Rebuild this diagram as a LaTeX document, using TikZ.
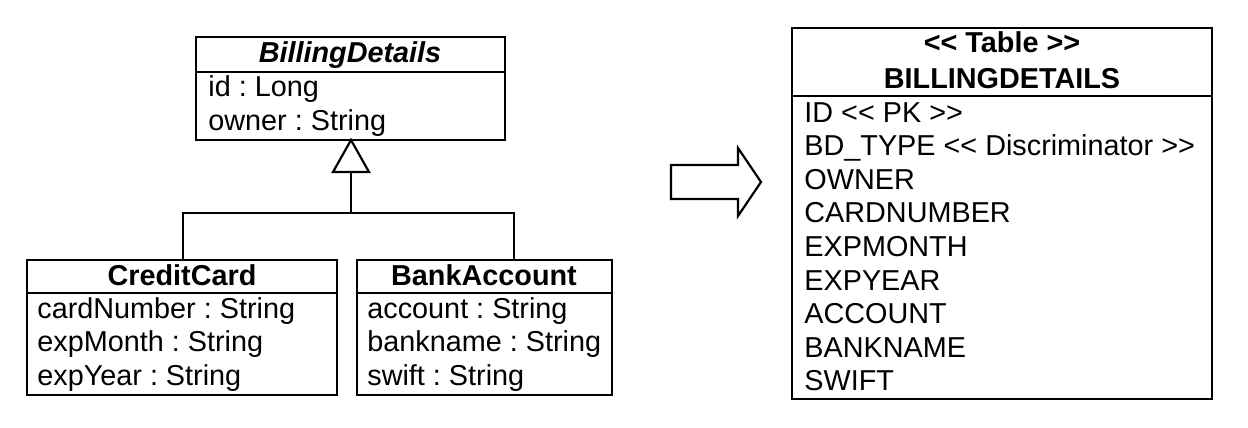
\documentclass[tikz,border=0pt]{standalone}
\usepackage{fontspec}
\setmainfont{Liberation Sans}
\usetikzlibrary{fit}
\newcommand\dlt{<\kern0pt<}
\newcommand\dgt{>\kern0pt>}
\frenchspacing
\begin{document}
\begin{tikzpicture}[x=0.5pt,y=-0.5pt,
  box/.style={draw, line width=1.1pt, inner sep=0pt},
  sep/.style={line width=1.1pt},
  conn/.style={line width=1.1pt},
  ttl/.style={font=\fontsize{14.4}{17}\selectfont\bfseries, anchor=base, inner sep=0pt},
  attr/.style={font=\fontsize{14.4}{17}\selectfont, anchor=base west, inner sep=0pt}]
\useasboundingbox (0,0) rectangle (1248,428);
% BillingDetails class
\node[box, fit={(196,37) (505,140)}] (bd) {};
\draw[sep] (196,72) -- (505,72);
\node[ttl, font=\fontsize{14.4}{17}\selectfont\bfseries\itshape] (bdt) at (350,62) {BillingDetails};
\node[attr] (bd1) at (208,96) {id : Long};
\node[attr] (bd2) at (208,130) {owner : String};
% CreditCard class
\node[box, fit={(27,260) (337,395)}] (cc) {};
\draw[sep] (27,293) -- (337,293);
\node[ttl] (cct) at (182,285) {CreditCard};
\node[attr] (cc1) at (37,318) {cardNumber : String};
\node[attr] (cc2) at (37,351) {expMonth : String};
\node[attr] (cc3) at (37,385) {expYear : String};
% BankAccount class
\node[box, fit={(357,260) (612,395)}] (ba) {};
\draw[sep] (357,293) -- (612,293);
\node[ttl] (bat) at (484,285) {BankAccount};
\node[attr] (ba1) at (367,318) {account : String};
\node[attr] (ba2) at (367,351) {bankname : String};
\node[attr] (ba3) at (367,385) {swift : String};
% generalization
\coordinate (apex) at (351,140);
\coordinate (tb) at (351,172);
\coordinate (j) at (351,213);
\coordinate (ccp) at (183,260);
\coordinate (bap) at (514,260);
\draw[conn] (apex) -- (369,172) -- (333,172) -- cycle;
\draw[conn] (tb) -- (j);
\draw[conn] (ccp) |- (j) -| (bap);
% big arrow
\draw[line width=1.1pt, line join=miter] (671,165) -- (738,165) -- (738,148) -- (761,182) -- (738,216) -- (738,199) -- (671,199) -- cycle;
% Table
\node[box, fit={(792,28) (1212,399)}] (tbl) {};
\draw[sep] (792,96) -- (1212,96);
\node[ttl] (tt1) at (1002,53) {\dlt{} Table \dgt};
\node[ttl] (tt2) at (1002,88) {BILLINGDETAILS};
\node[attr] (t1) at (804,122) {ID \dlt{} PK \dgt};
\node[attr] (t2) at (804,155.6) {BD\_TYPE \dlt{} Discriminator \dgt};
\node[attr] (t3) at (804,189.2) {OWNER};
\node[attr] (t4) at (804,222.8) {CARDNUMBER};
\node[attr] (t5) at (804,256.4) {EXPMONTH};
\node[attr] (t6) at (804,290) {EXPYEAR};
\node[attr] (t7) at (804,323.6) {ACCOUNT};
\node[attr] (t8) at (804,357.2) {BANKNAME};
\node[attr] (t9) at (804,390.8) {SWIFT};
\end{tikzpicture}
\end{document}
